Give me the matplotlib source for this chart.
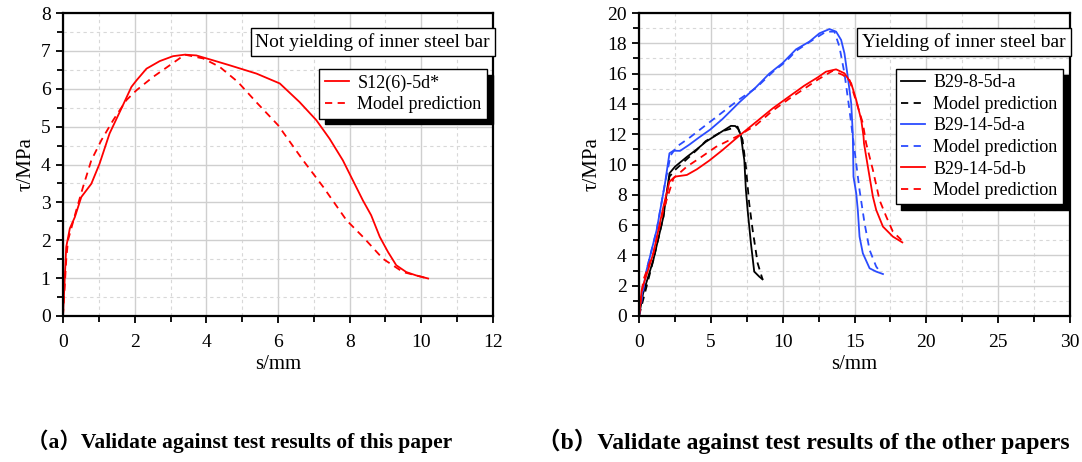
import numpy as np
import matplotlib.pyplot as plt
from matplotlib.ticker import MultipleLocator

plt.rcParams['font.family'] = ['Liberation Serif', 'Noto Sans CJK SC']
plt.rcParams['lines.solid_joinstyle'] = 'round'
plt.rcParams['lines.dash_joinstyle'] = 'round'

# (a) test results of this paper
s_a_test = [0, 0.09, 0.19, 0.33, 0.51, 0.79, 1.02, 1.30, 1.63, 1.91, 2.05, 2.33, 2.70,
            3.07, 3.40, 3.72, 4.19, 4.65, 5.40, 6.05, 6.6, 7.07, 7.44, 7.81, 8.09,
            8.37, 8.6, 8.84, 9.07, 9.30, 9.58, 9.86, 10.19]
t_a_test = [0, 1.82, 2.31, 2.61, 3.14, 3.49, 4.02, 4.82, 5.48, 6.05, 6.22, 6.53, 6.73,
            6.86, 6.90, 6.88, 6.75, 6.62, 6.40, 6.14, 5.65, 5.17, 4.68, 4.11, 3.58,
            3.05, 2.66, 2.09, 1.69, 1.34, 1.16, 1.07, 0.99]
s_a_model = [0, 0.09, 0.14, 0.23, 0.37, 0.56, 0.79, 1.07, 1.40, 1.77, 2.05, 2.51, 2.98,
             3.40, 3.91, 4.37, 4.88, 5.40, 6.0, 6.7, 7.26, 7.91, 8.37, 8.93, 9.49, 10.19]
t_a_model = [0, 1.47, 2.0, 2.31, 2.79, 3.41, 4.11, 4.64, 5.17, 5.70, 5.96, 6.31, 6.62,
             6.90, 6.80, 6.58, 6.18, 5.64, 5.04, 4.11, 3.41, 2.53, 2.09, 1.51, 1.16, 0.99]

# (b) test results of the other papers
s_b1 = [0, 0.28, 1.0, 1.7, 2.12, 2.51, 3.33, 4.02, 4.65, 5.81, 6.4, 6.7, 6.9, 7.09,
        7.25, 7.33, 7.44, 7.56, 7.79, 8.02, 8.37, 8.6]
t_b1 = [0, 1.48, 3.7, 6.56, 9.42, 9.86, 10.5, 11.0, 11.5, 12.2, 12.55, 12.54, 12.35,
        11.95, 10.8, 10.3, 8.32, 7.0, 4.8, 2.93, 2.6, 2.42]
s_b1m = [0, 1.0, 1.7, 2.12, 2.51, 4.02, 4.65, 5.81, 6.7, 6.86, 7.21, 7.44, 7.67, 7.91, 8.26, 8.6]
t_b1m = [0, 3.7, 6.56, 9.2, 9.64, 10.96, 11.55, 12.2, 12.45, 12.5, 11.62, 9.86, 7.44, 5.68, 3.48, 2.42]

s_b2 = [0, 0.1, 0.53, 1.23, 1.81, 2.12, 2.4, 2.86, 3.49, 4.2, 4.95, 5.81, 6.98, 8.14,
        9.07, 10.0, 10.93, 11.86, 12.56, 13.26, 13.72, 14.07, 14.3, 14.53, 14.77, 14.88,
        14.93, 15.12, 15.23, 15.35, 15.58, 16.05, 16.51, 16.98]
t_b2 = [0, 0.9, 3.04, 5.68, 8.76, 10.74, 10.91, 10.9, 11.3, 11.8, 12.3, 13.0, 14.1,
        15.1, 16.0, 16.7, 17.6, 18.11, 18.66, 18.94, 18.77, 18.22, 17.34, 15.8, 14.04,
        12.06, 9.2, 8.1, 7.0, 5.24, 4.14, 3.15, 2.93, 2.77]
s_b2m = [0, 0.53, 1.23, 1.81, 2.2, 2.63, 3.49, 4.65, 5.81, 6.98, 8.14, 9.3, 10.23, 10.93,
         12.09, 13.02, 13.6, 13.95, 14.3, 14.65, 15.0, 15.35, 15.7, 16.05, 16.51, 16.86]
t_b2m = [0, 3.04, 5.68, 8.76, 10.6, 11.18, 11.75, 12.6, 13.45, 14.3, 15.05, 16.1, 16.8, 17.5,
         18.22, 18.77, 18.77, 17.78, 16.02, 13.6, 10.96, 8.32, 6.12, 4.36, 3.26, 2.82]

s_b3 = [0, 0.19, 1.0, 1.7, 2.12, 2.51, 3.33, 4.02, 4.88, 5.81, 6.98, 8.14, 9.3, 10.47,
        11.5, 12.44, 13.02, 13.72, 14.3, 14.77, 15.12, 15.47, 15.63, 15.66, 15.93, 16.28,
        16.51, 16.98, 17.67, 18.33]
t_b3 = [0, 1.72, 4.14, 7.22, 8.87, 9.2, 9.31, 9.68, 10.25, 10.95, 11.9, 12.8, 13.7, 14.5,
        15.2, 15.75, 16.13, 16.28, 16.02, 15.36, 14.26, 12.94, 11.84, 11.4, 9.86, 7.88,
        7.0, 5.90, 5.24, 4.86]
s_b3m = [0, 0.3, 1.0, 1.7, 2.4, 3.33, 4.19, 5.35, 6.98, 8.14, 9.3, 10.47, 11.5, 12.44,
         13.49, 14.19, 14.65, 15.23, 15.58, 15.81, 16.28, 16.74, 17.21, 17.67, 18.26]
t_b3m = [0, 2.38, 4.14, 7.0, 9.09, 9.86, 10.4, 11.16, 11.93, 12.6, 13.55, 14.35, 15.0, 15.6,
         16.19, 15.91, 15.58, 13.82, 12.72, 11.4, 9.64, 7.66, 6.56, 5.57, 5.02]

fig = plt.figure(figsize=(10.82, 4.62), dpi=100)
ax1 = fig.add_axes([63 / 1082, 1 - 316 / 462, 430 / 1082, 303 / 462])
ax2 = fig.add_axes([639 / 1082, 1 - 316 / 462, 431 / 1082, 303 / 462])


def style(ax, xmax, xmaj, xmin, ymax, ymaj, ymin):
    ax.set_xlim(0, xmax)
    ax.set_ylim(0, ymax)
    ax.xaxis.set_major_locator(MultipleLocator(xmaj))
    ax.xaxis.set_minor_locator(MultipleLocator(xmin))
    ax.yaxis.set_major_locator(MultipleLocator(ymaj))
    ax.yaxis.set_minor_locator(MultipleLocator(ymin))
    ax.grid(which='major', color='#cfcfcf', lw=1.0, ls='-')
    ax.grid(which='minor', color='#d8d8d8', lw=0.8, ls=(0, (3, 3)))
    ax.set_axisbelow(True)
    ax.tick_params(which='both', direction='out', width=1.3, labelsize=14,
                   top=False, right=False)
    ax.tick_params(which='major', length=5)
    ax.tick_params(which='minor', length=4)
    ax.tick_params(axis='x', which='major', pad=8)
    ax.tick_params(axis='y', which='major', pad=4)
    for sp in ax.spines.values():
        sp.set_linewidth(1.6)
    ax.set_xlabel('s/mm', fontsize=15, labelpad=3)
    ax.set_ylabel('τ/MPa', fontsize=15, labelpad=4)


style(ax1, 12, 2, 1, 8, 1, 0.5)
style(ax2, 30, 5, 2.5, 20, 2, 1)

dash = (0, (4, 3))

ax1.plot(s_a_test, t_a_test, color='red', lw=1.3, label='S12(6)-5d*')
ax1.plot(s_a_model, t_a_model, color='red', lw=1.3, ls=dash, label='Model prediction')

ax2.plot(s_b1, t_b1, color='black', lw=1.3, label='B29-8-5d-a')
ax2.plot(s_b1m, t_b1m, color='black', lw=1.3, ls=dash, label='Model prediction')
ax2.plot(s_b2, t_b2, color='#2b4cff', lw=1.3, label='B29-14-5d-a')
ax2.plot(s_b2m, t_b2m, color='#2b4cff', lw=1.3, ls=dash, label='Model prediction')
ax2.plot(s_b3, t_b3, color='red', lw=1.3, label='B29-14-5d-b')
ax2.plot(s_b3m, t_b3m, color='red', lw=1.3, ls=dash, label='Model prediction')

box = dict(boxstyle='square,pad=0.25', fc='white', ec='black', lw=1.0)
ax1.text(0.993, 0.905, 'Not yielding of inner steel bar', transform=ax1.transAxes,
         ha='right', va='center', fontsize=14, bbox=box)
ax2.text(0.99, 0.905, 'Yielding of inner steel bar', transform=ax2.transAxes,
         ha='right', va='center', fontsize=14, bbox=box)

leg_kw = dict(fontsize=13, frameon=True, fancybox=False, edgecolor='black',
              framealpha=1, borderpad=0.3, labelspacing=0.25, handlelength=1.35,
              handletextpad=0.45, borderaxespad=0,
              shadow={'color': 'black', 'alpha': 1, 'ox': 4, 'oy': -4})
l1 = ax1.legend(loc='upper right', bbox_to_anchor=(0.986, 0.815), **leg_kw)
l1.get_frame().set_linewidth(1.0)
l2 = ax2.legend(loc='upper right', bbox_to_anchor=(0.984, 0.815), **leg_kw)
l2.get_frame().set_linewidth(1.0)

fig.text(27 / 1082, 1 - 441 / 462, '（a）Validate against test results of this paper',
         fontsize=15.5, fontweight='bold', ha='left', va='center')
fig.text(537 / 1082, 1 - 441 / 462, '（b）Validate against test results of the other papers',
         fontsize=17, fontweight='bold', ha='left', va='center')

fig.savefig('out.png', dpi=100)
